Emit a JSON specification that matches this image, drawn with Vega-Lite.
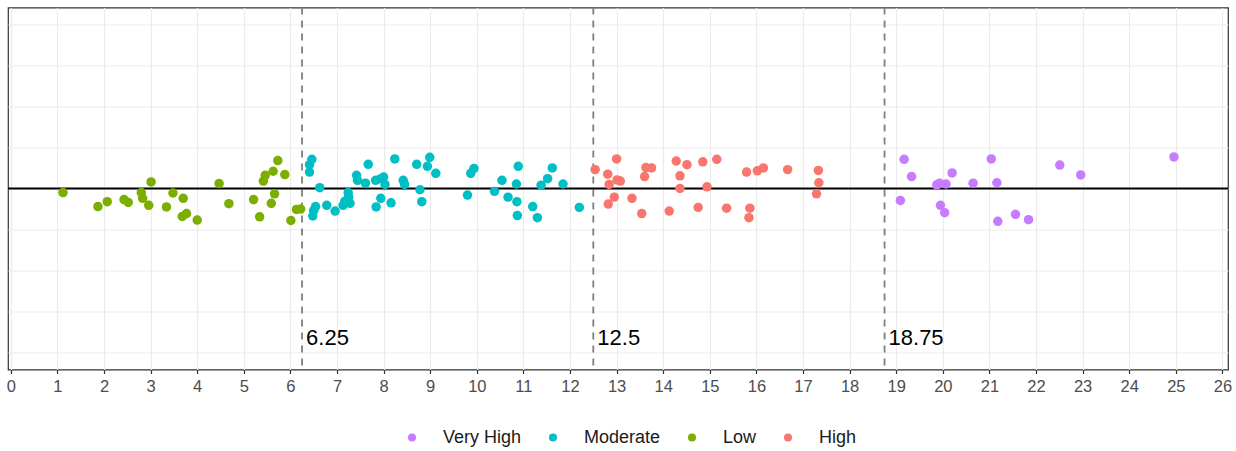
{
  "$schema": "https://vega.github.io/schema/vega-lite/v6.json",
  "width": 1220,
  "height": 362,
  "autosize": {"type": "none"},
  "padding": {"left": 8, "top": 7.5, "right": 8, "bottom": 81.5},
  "background": "white",
  "config": {
    "font": "Liberation Sans",
    "view": {"stroke": "#333333", "strokeWidth": 1.2},
    "legend": {"padding": 0}
  },
  "datasets": {
    "pts": [
      {"x": 1.12, "y": -0.10, "level": "Low"},
      {"x": 1.87, "y": -0.44, "level": "Low"},
      {"x": 2.07, "y": -0.32, "level": "Low"},
      {"x": 2.43, "y": -0.27, "level": "Low"},
      {"x": 2.52, "y": -0.34, "level": "Low"},
      {"x": 2.80, "y": -0.10, "level": "Low"},
      {"x": 2.83, "y": -0.24, "level": "Low"},
      {"x": 2.96, "y": -0.41, "level": "Low"},
      {"x": 3.01, "y": 0.16, "level": "Low"},
      {"x": 3.34, "y": -0.45, "level": "Low"},
      {"x": 3.48, "y": -0.11, "level": "Low"},
      {"x": 3.70, "y": -0.24, "level": "Low"},
      {"x": 3.68, "y": -0.68, "level": "Low"},
      {"x": 3.77, "y": -0.61, "level": "Low"},
      {"x": 4.00, "y": -0.77, "level": "Low"},
      {"x": 4.47, "y": 0.12, "level": "Low"},
      {"x": 4.68, "y": -0.37, "level": "Low"},
      {"x": 5.21, "y": -0.27, "level": "Low"},
      {"x": 5.34, "y": -0.69, "level": "Low"},
      {"x": 5.42, "y": 0.18, "level": "Low"},
      {"x": 5.46, "y": 0.32, "level": "Low"},
      {"x": 5.63, "y": 0.42, "level": "Low"},
      {"x": 5.73, "y": 0.68, "level": "Low"},
      {"x": 5.88, "y": 0.34, "level": "Low"},
      {"x": 5.66, "y": -0.13, "level": "Low"},
      {"x": 5.59, "y": -0.36, "level": "Low"},
      {"x": 6.01, "y": -0.78, "level": "Low"},
      {"x": 6.13, "y": -0.51, "level": "Low"},
      {"x": 6.22, "y": -0.50, "level": "Low"},
      {"x": 6.46, "y": 0.71, "level": "Moderate"},
      {"x": 6.41, "y": 0.58, "level": "Moderate"},
      {"x": 6.41, "y": 0.40, "level": "Moderate"},
      {"x": 6.63, "y": 0.02, "level": "Moderate"},
      {"x": 6.54, "y": -0.44, "level": "Moderate"},
      {"x": 6.50, "y": -0.54, "level": "Moderate"},
      {"x": 6.48, "y": -0.67, "level": "Moderate"},
      {"x": 6.78, "y": -0.41, "level": "Moderate"},
      {"x": 6.96, "y": -0.55, "level": "Moderate"},
      {"x": 7.13, "y": -0.41, "level": "Moderate"},
      {"x": 7.17, "y": -0.31, "level": "Moderate"},
      {"x": 7.24, "y": -0.10, "level": "Moderate"},
      {"x": 7.25, "y": -0.21, "level": "Moderate"},
      {"x": 7.28, "y": -0.36, "level": "Moderate"},
      {"x": 7.42, "y": 0.32, "level": "Moderate"},
      {"x": 7.44, "y": 0.20, "level": "Moderate"},
      {"x": 7.61, "y": 0.13, "level": "Moderate"},
      {"x": 7.67, "y": 0.59, "level": "Moderate"},
      {"x": 7.83, "y": 0.20, "level": "Moderate"},
      {"x": 7.94, "y": 0.24, "level": "Moderate"},
      {"x": 8.00, "y": 0.28, "level": "Moderate"},
      {"x": 8.03, "y": 0.10, "level": "Moderate"},
      {"x": 7.94, "y": -0.24, "level": "Moderate"},
      {"x": 7.84, "y": -0.45, "level": "Moderate"},
      {"x": 8.16, "y": -0.35, "level": "Moderate"},
      {"x": 8.24, "y": 0.72, "level": "Moderate"},
      {"x": 8.42, "y": 0.20, "level": "Moderate"},
      {"x": 8.45, "y": 0.10, "level": "Moderate"},
      {"x": 8.71, "y": 0.59, "level": "Moderate"},
      {"x": 8.78, "y": -0.03, "level": "Moderate"},
      {"x": 8.82, "y": -0.32, "level": "Moderate"},
      {"x": 8.94, "y": 0.54, "level": "Moderate"},
      {"x": 8.99, "y": 0.76, "level": "Moderate"},
      {"x": 9.12, "y": 0.37, "level": "Moderate"},
      {"x": 9.80, "y": -0.16, "level": "Moderate"},
      {"x": 9.87, "y": 0.37, "level": "Moderate"},
      {"x": 9.94, "y": 0.49, "level": "Moderate"},
      {"x": 10.38, "y": -0.07, "level": "Moderate"},
      {"x": 10.54, "y": 0.20, "level": "Moderate"},
      {"x": 10.67, "y": -0.21, "level": "Moderate"},
      {"x": 10.86, "y": -0.32, "level": "Moderate"},
      {"x": 10.87, "y": -0.66, "level": "Moderate"},
      {"x": 10.85, "y": 0.11, "level": "Moderate"},
      {"x": 10.89, "y": 0.54, "level": "Moderate"},
      {"x": 11.20, "y": -0.44, "level": "Moderate"},
      {"x": 11.30, "y": -0.71, "level": "Moderate"},
      {"x": 11.38, "y": 0.08, "level": "Moderate"},
      {"x": 11.52, "y": 0.24, "level": "Moderate"},
      {"x": 11.62, "y": 0.50, "level": "Moderate"},
      {"x": 11.85, "y": 0.11, "level": "Moderate"},
      {"x": 12.20, "y": -0.46, "level": "Moderate"},
      {"x": 12.54, "y": 0.46, "level": "High"},
      {"x": 13.00, "y": 0.72, "level": "High"},
      {"x": 12.81, "y": 0.35, "level": "High"},
      {"x": 12.84, "y": 0.10, "level": "High"},
      {"x": 13.01, "y": 0.21, "level": "High"},
      {"x": 13.08, "y": 0.18, "level": "High"},
      {"x": 12.95, "y": -0.21, "level": "High"},
      {"x": 12.82, "y": -0.38, "level": "High"},
      {"x": 13.33, "y": -0.24, "level": "High"},
      {"x": 13.54, "y": -0.61, "level": "High"},
      {"x": 13.60, "y": 0.29, "level": "High"},
      {"x": 13.63, "y": 0.51, "level": "High"},
      {"x": 13.75, "y": 0.50, "level": "High"},
      {"x": 14.13, "y": -0.55, "level": "High"},
      {"x": 14.28, "y": 0.67, "level": "High"},
      {"x": 14.36, "y": 0.31, "level": "High"},
      {"x": 14.36, "y": 0.00, "level": "High"},
      {"x": 14.51, "y": 0.58, "level": "High"},
      {"x": 14.75, "y": -0.46, "level": "High"},
      {"x": 14.85, "y": 0.65, "level": "High"},
      {"x": 14.94, "y": 0.04, "level": "High"},
      {"x": 15.15, "y": 0.71, "level": "High"},
      {"x": 15.36, "y": -0.48, "level": "High"},
      {"x": 15.79, "y": 0.40, "level": "High"},
      {"x": 15.86, "y": -0.48, "level": "High"},
      {"x": 15.84, "y": -0.71, "level": "High"},
      {"x": 16.02, "y": 0.43, "level": "High"},
      {"x": 16.15, "y": 0.50, "level": "High"},
      {"x": 16.67, "y": 0.46, "level": "High"},
      {"x": 17.33, "y": 0.44, "level": "High"},
      {"x": 17.34, "y": 0.14, "level": "High"},
      {"x": 17.29, "y": -0.13, "level": "High"},
      {"x": 19.17, "y": 0.71, "level": "Very High"},
      {"x": 19.33, "y": 0.29, "level": "Very High"},
      {"x": 19.09, "y": -0.29, "level": "Very High"},
      {"x": 19.87, "y": 0.09, "level": "Very High"},
      {"x": 19.93, "y": 0.13, "level": "Very High"},
      {"x": 20.07, "y": 0.11, "level": "Very High"},
      {"x": 20.20, "y": 0.38, "level": "Very High"},
      {"x": 19.95, "y": -0.41, "level": "Very High"},
      {"x": 20.04, "y": -0.59, "level": "Very High"},
      {"x": 20.65, "y": 0.13, "level": "Very High"},
      {"x": 21.04, "y": 0.72, "level": "Very High"},
      {"x": 21.16, "y": 0.14, "level": "Very High"},
      {"x": 21.18, "y": -0.80, "level": "Very High"},
      {"x": 21.56, "y": -0.63, "level": "Very High"},
      {"x": 21.84, "y": -0.76, "level": "Very High"},
      {"x": 22.51, "y": 0.57, "level": "Very High"},
      {"x": 22.96, "y": 0.33, "level": "Very High"},
      {"x": 24.96, "y": 0.77, "level": "Very High"}
    ],
    "cuts": [
      {"x": 6.25, "label": "6.25", "ty": -3.65},
      {"x": 12.5, "label": "12.5", "ty": -3.65},
      {"x": 18.75, "label": "18.75", "ty": -3.65}
    ]
  },
  "layer": [
    {
      "data": {"name": "cuts"},
      "mark": {"type": "rule", "color": "#7f7f7f", "strokeWidth": 1.8, "strokeDash": [7, 6]},
      "encoding": {
        "x": {
          "field": "x", "type": "quantitative",
          "scale": {"domain": [-0.06, 26.12], "nice": false, "zero": false},
          "axis": {
            "values": [0,0.5,1,1.5,2,2.5,3,3.5,4,4.5,5,5.5,6,6.5,7,7.5,8,8.5,9,9.5,10,10.5,11,11.5,12,12.5,13,13.5,14,14.5,15,15.5,16,16.5,17,17.5,18,18.5,19,19.5,20,20.5,21,21.5,22,22.5,23,23.5,24,24.5,25,25.5,26],
            "labelExpr": "datum.value % 1 === 0 ? datum.label : ''",
            "title": null,
            "domain": false,
            "grid": true,
            "gridColor": "#ebebeb",
            "gridWidth": {"condition": {"test": "datum.value % 1 !== 0", "value": 0.6}, "value": 1.2},
            "tickColor": "#333333",
            "tickWidth": 1.2,
            "tickSize": {"condition": {"test": "datum.value % 1 !== 0", "value": 0}, "value": 4},
            "labelColor": "#4d4d4d",
            "labelFontSize": 16.5,
            "labelPadding": 5,
            "labelFlush": false,
            "labelOverlap": false
          }
        }
      }
    },
    {
      "data": {"values": [{"y0": 0}]},
      "mark": {"type": "rule", "color": "black", "strokeWidth": 1.8},
      "encoding": {
        "y": {
          "field": "y0", "type": "quantitative",
          "scale": {"domain": [-4.41, 4.41], "nice": false, "zero": false},
          "axis": {
            "values": [-4,-3,-2,-1,0,1,2,3,4],
            "title": null,
            "labels": false,
            "ticks": false,
            "domain": false,
            "grid": true,
            "gridColor": "#ebebeb",
            "gridWidth": 1.1
          }
        }
      }
    },
    {
      "data": {"name": "pts"},
      "mark": {"type": "circle", "size": 90, "opacity": 1},
      "encoding": {
        "x": {"field": "x", "type": "quantitative"},
        "y": {"field": "y", "type": "quantitative"},
        "color": {
          "field": "level", "type": "nominal",
          "scale": {"domain": ["Very High", "Moderate", "Low", "High"], "range": ["#C77CFF", "#00BFC4", "#7CAE00", "#F8766D"]},
          "legend": {
            "title": null,
            "orient": "none",
            "direction": "horizontal",
            "legendX": 395,
            "legendY": 421,
            "symbolType": "circle",
            "symbolSize": 64,
            "symbolOpacity": 1,
            "labelFontSize": 18,
            "labelColor": "#1a1a1a",
            "labelOffset": 22,
            "columnPadding": 22,
            "padding": 0
          }
        }
      }
    },
    {
      "data": {"name": "cuts"},
      "mark": {"type": "text", "align": "left", "baseline": "middle", "dx": 4, "fontSize": 22, "color": "black"},
      "encoding": {
        "x": {"field": "x", "type": "quantitative"},
        "y": {"field": "ty", "type": "quantitative"},
        "text": {"field": "label"}
      }
    }
  ]
}
